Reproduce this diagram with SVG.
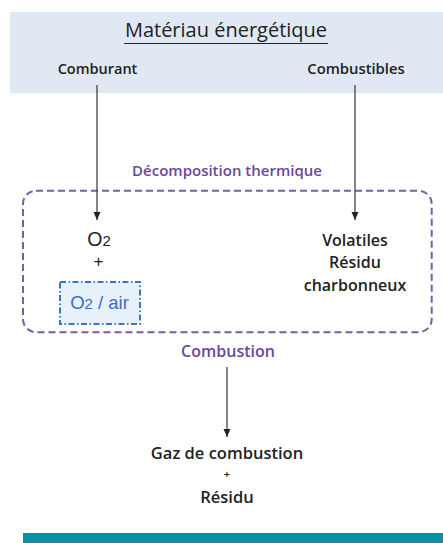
<svg xmlns="http://www.w3.org/2000/svg" width="443" height="543" viewBox="0 0 443 543">
<style>
.t{font-family:"Open Sans","Noto Sans",sans-serif;fill:#222;text-anchor:middle;font-weight:600}
.h{font-family:"Open Sans","Noto Sans",sans-serif;fill:#222;text-anchor:middle;font-weight:400}
.p{font-family:"Open Sans","Noto Sans",sans-serif;fill:#6b479a;text-anchor:middle;font-weight:600}
.a{font-family:"Liberation Sans",Arial,sans-serif;text-anchor:middle}
.ln{stroke:#444;stroke-width:1.3;fill:none}
</style>
<defs>
<marker id="ah" viewBox="0 0 8 8" refX="8" refY="4" markerWidth="8" markerHeight="8" markerUnits="userSpaceOnUse" orient="auto">
<path d="M0,0.5 L8,4 L0,7.5 Z" fill="#222"/>
</marker>
</defs>
<rect width="443" height="543" fill="#fff"/>
<g id="materiau">
<rect x="10" y="12" width="433" height="81" fill="#dfe8f3"/>
<text class="h" x="226" y="37" font-size="20">Matériau énergétique</text>
<line x1="124" y1="43.5" x2="328" y2="43.5" stroke="#222" stroke-width="1"/>
<text class="t" x="97.5" y="74" font-size="14.5">Comburant</text>
<text class="t" x="356" y="74" font-size="14.8">Combustibles</text>
</g>
<g id="decomposition">
<text class="p" x="227" y="175.5" font-size="15">Décomposition thermique</text>
<rect x="23" y="190.7" width="408.7" height="141.5" rx="13" ry="13" fill="none" stroke="#7b5ba8" stroke-width="2" stroke-dasharray="7 4"/>
</g>
<g id="o2">
<text class="a" x="99" y="246" font-size="19.5" fill="#222">O<tspan font-size="15">2</tspan></text>
<text class="a" x="98.5" y="266.5" font-size="17" fill="#222">+</text>
</g>
<g id="o2air">
<rect x="60" y="282" width="80" height="42" fill="#e8f0fa" stroke="#3c74c4" stroke-width="2" stroke-dasharray="6 2.5 1.5 2.5"/>
<text class="a" x="99.5" y="309" font-size="18.5" fill="#3a6fbf">O<tspan font-size="15">2</tspan> / air</text>
</g>
<g id="volatiles">
<text class="t" x="355" y="245.5" font-size="16">Volatiles</text>
<text class="t" x="355" y="268" font-size="16">Résidu</text>
<text class="t" x="355" y="290.5" font-size="16">charbonneux</text>
</g>
<g id="combustion">
<text class="p" x="228" y="357" font-size="16">Combustion</text>
</g>
<g id="produits">
<text class="t" x="227" y="459" font-size="16.5">Gaz de combustion</text>
<text class="t" x="227" y="478" font-size="11">+</text>
<text class="t" x="227" y="503" font-size="16.5">Résidu</text>
</g>
<g id="connectors">
<line class="ln" x1="97" y1="85" x2="97" y2="220" marker-end="url(#ah)"/>
<line class="ln" x1="355" y1="85" x2="355" y2="220" marker-end="url(#ah)"/>
<line class="ln" x1="227" y1="367" x2="227" y2="437" marker-end="url(#ah)"/>
</g>
<rect id="bar" x="23" y="533" width="420" height="10" fill="#0a91a6"/>
</svg>
